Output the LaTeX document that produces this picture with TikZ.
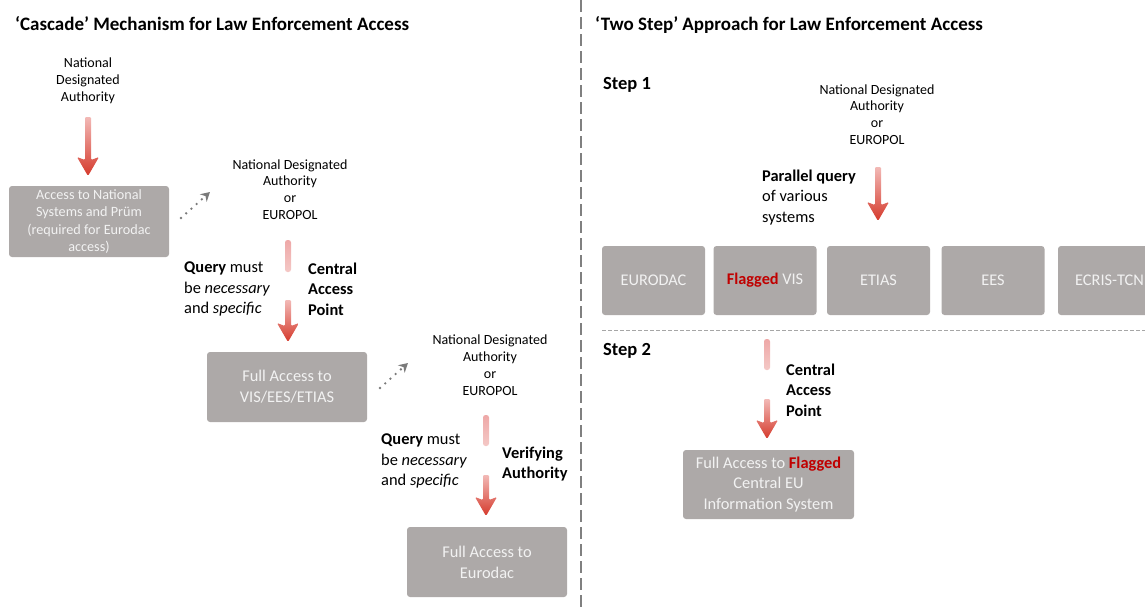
\documentclass[tikz,border=0pt]{standalone}
\usepackage{fontspec}
\setmainfont{Carlito}
\usetikzlibrary{arrows.meta}
\definecolor{boxgray}{HTML}{ADA9A8}
\definecolor{boxtext}{HTML}{F2F2F2}
\definecolor{flagred}{HTML}{C00000}
\definecolor{arrred}{HTML}{D5392B}
\definecolor{arrpink}{HTML}{F2B9B6}
\definecolor{palepinkA}{HTML}{EEA8A7}
\definecolor{palepinkB}{HTML}{F4C8C6}
\definecolor{dashgray}{HTML}{808080}
\definecolor{dotgray}{HTML}{7A7A7A}
\newcommand\fs[2]{\fontsize{#1}{#2}\selectfont}
% x, ytop, ytip, topcolor, bottomcolor
\newcommand\gradarrow[5]{%
  \shade[top color=#4, bottom color=#5, rounded corners=1.2pt]
    (#1-3,#2) -- (#1+3,#2) -- (#1+3,#3-16) -- (#1+11,#3-19) -- (#1,#3)
    -- (#1-11,#3-19) -- (#1-3,#3-16) -- cycle;}
% x, ytop, ybottom
\newcommand\paleseg[3]{%
  \shade[top color=palepinkA, bottom color=palepinkB, rounded corners=2.5pt]
    (#1-3,#2) rectangle (#1+3,#3);}
\begin{document}
\begin{tikzpicture}[x=1pt,y=-1pt,
  box/.style={fill=boxgray, rounded corners=3pt, text=boxtext, align=center,
    inner sep=0pt},
  smalltxt/.style={align=center, inner sep=0pt, font=\fs{14}{16.8}},
  lbl/.style={align=left, anchor=west, inner sep=0pt, font=\fs{16.4}{20.3}},
  lblb/.style={lbl, font=\bfseries\fs{16.4}{20.3}},
  ttl/.style={anchor=west, inner sep=0pt, font=\bfseries\fs{19}{22}},
  steplbl/.style={anchor=west, inner sep=0pt, font=\bfseries\fs{18.5}{20}},
  dotarrow/.style={dotgray, line width=2.6pt, line cap=round,
    dash pattern=on 0pt off 7pt, -{Stealth[length=9pt,width=10pt]}}]
\useasboundingbox (0,0) rectangle (1145,611);
\begin{scope}
\clip (0,0) rectangle (1145,611);

% divider
\draw[dashgray, line width=2pt, dash pattern=on 12pt off 5pt] (581,0) -- (581,611);
\draw[dashgray!70, line width=0.7pt, dash pattern=on 4pt off 2pt] (602,330) -- (1145,330);

% ---------- left ----------
\node[ttl] (t1) at (15,24) {‘Cascade’ Mechanism for Law Enforcement Access};

\node[smalltxt] (nda1) at (88,81) {National\\Designated\\Authority};
\gradarrow{88}{117}{176}{arrpink}{arrred}
\node[box, minimum width=160pt, minimum height=71pt, font=\fs{14.2}{17.3}]
  (b1) at (89,221.5) {Access to National\\Systems and Prüm\\(required for Eurodac\\access)};

\coordinate (d1s) at (181,218);
\coordinate (d1e) at (210,192);
\draw[dotarrow] (d1s) -- (d1e);
\node[smalltxt] (nda2) at (290,189.5) {National Designated\\Authority\\or\\EUROPOL};

\paleseg{288}{240}{272}
\gradarrow{288}{300}{342}{arrpink}{arrred}
\node[lbl] (q1) at (184,289) {\textbf{Query} must\\be \textit{necessary}\\and \textit{specific}};
\node[lblb] (cap1) at (308,289) {Central\\Access\\Point};

\node[box, minimum width=160pt, minimum height=70pt, font=\fs{16.4}{21}]
  (b2) at (287,387) {Full Access to\\VIS/EES/ETIAS};

\coordinate (d2s) at (380,388);
\coordinate (d2e) at (408,363);
\draw[dotarrow] (d2s) -- (d2e);
\node[smalltxt] (nda3) at (490,365) {National Designated\\Authority\\or\\EUROPOL};

\paleseg{486}{415}{446}
\gradarrow{486}{475}{516}{arrpink}{arrred}
\node[lbl] (q2) at (381,461) {\textbf{Query} must\\be \textit{necessary}\\and \textit{specific}};
\node[lblb] (va) at (502,464) {Verifying\\Authority};

\node[box, minimum width=160pt, minimum height=70pt, font=\fs{16.4}{21}]
  (b3) at (487,562) {Full Access to\\Eurodac};

% ---------- right ----------
\node[ttl] (t2) at (595,25) {‘Two Step’ Approach for Law Enforcement Access};
\node[steplbl] (s1) at (603,85) {Step 1};
\node[smalltxt] (nda4) at (877,114.5) {National Designated\\Authority\\or\\EUROPOL};
\gradarrow{878}{167}{221}{arrpink}{arrred}
\node[lbl] (pq) at (762,197.5) {\textbf{Parallel query}\\of various\\systems};

\foreach \n/\cx/\t in {eurodac/653.5/EURODAC, vis/765/{\textcolor{flagred}{\textbf{Flagged}} VIS},
    etias/878.5/ETIAS, ees/993/EES, ecris/1109.5/ECRIS-TCN}
  \node[box, minimum width=103pt, minimum height=69pt, font=\fs{16.3}{18}]
    (\n) at (\cx,280.5) {\t};

\node[steplbl] (s2) at (603,351) {Step 2};
\paleseg{767}{339}{370}
\gradarrow{767}{399}{439}{arrpink}{arrred}
\node[lblb] (cap2) at (786,390) {Central\\Access\\Point};
\node[box, minimum width=171pt, minimum height=69pt, font=\fs{16.4}{20.3}]
  (bf) at (768.5,484.5) {Full Access to \textcolor{flagred}{\textbf{Flagged}}\\Central EU\\Information System};
\end{scope}
\end{tikzpicture}
\end{document}
